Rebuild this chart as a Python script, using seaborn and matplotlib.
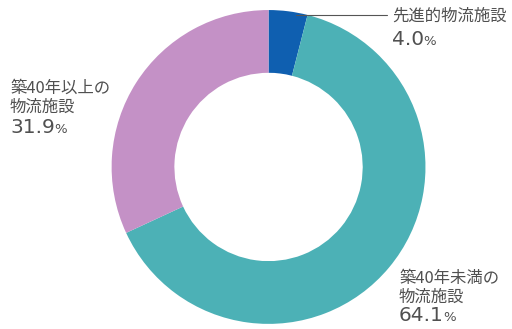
import matplotlib
matplotlib.use("Agg")
import matplotlib.pyplot as plt
import seaborn as sns

sns.set_theme(style="white")
plt.rcParams['font.family'] = ['Noto Sans CJK JP', 'DejaVu Sans']

# data
labels = ['先進的物流施設', '築40年未満の\n物流施設', '築40年以上の\n物流施設']
values = [4.0, 64.1, 31.9]
colors = ['#0f5fb0', '#4cb1b6', '#c491c6']
txt_color = '#505050'

fig = plt.figure(figsize=(5.12, 3.29), dpi=100)
ax = fig.add_axes([0.218, 0.015, 0.613, 0.955])
ax.pie(values, colors=colors, startangle=90, counterclock=False,
       wedgeprops=dict(width=0.40, edgecolor='none'))
ax.set_xlim(-1, 1)
ax.set_ylim(-1, 1)
ax.set_aspect('equal')


def fx(px):
    return px / 512


def fy(py):
    return 1 - py / 329


def label(x, baselines, name, pct):
    # each name line and the percent on its own baseline (pixel rows)
    for line, b in zip(name.split('\n'), baselines[:-1]):
        fig.text(fx(x), fy(b), line, fontsize=11.8, color=txt_color,
                 va='baseline', ha='left')
    t = fig.text(fx(x), fy(baselines[-1]), f'{pct:.1f}', fontsize=14.5,
                 family='DejaVu Sans', color=txt_color, va='baseline', ha='left')
    fig.canvas.draw()
    bb = t.get_window_extent()
    fig.text(bb.x1 / fig.bbox.width - 0.001, fy(baselines[-1]), '%',
             fontsize=9.5, family='DejaVu Sans', color=txt_color,
             va='baseline', ha='left')


label(392, [21, 45], labels[0], values[0])
label(399, [283, 302, 321], labels[1], values[1])
label(10, [93, 112, 133], labels[2], values[2])

# leader line for the small segment
fig.add_artist(plt.Line2D([fx(296), fx(387)], [fy(14.5), fy(14.5)],
                          color='#555555', lw=0.8))

fig.savefig('out.png', dpi=100)
